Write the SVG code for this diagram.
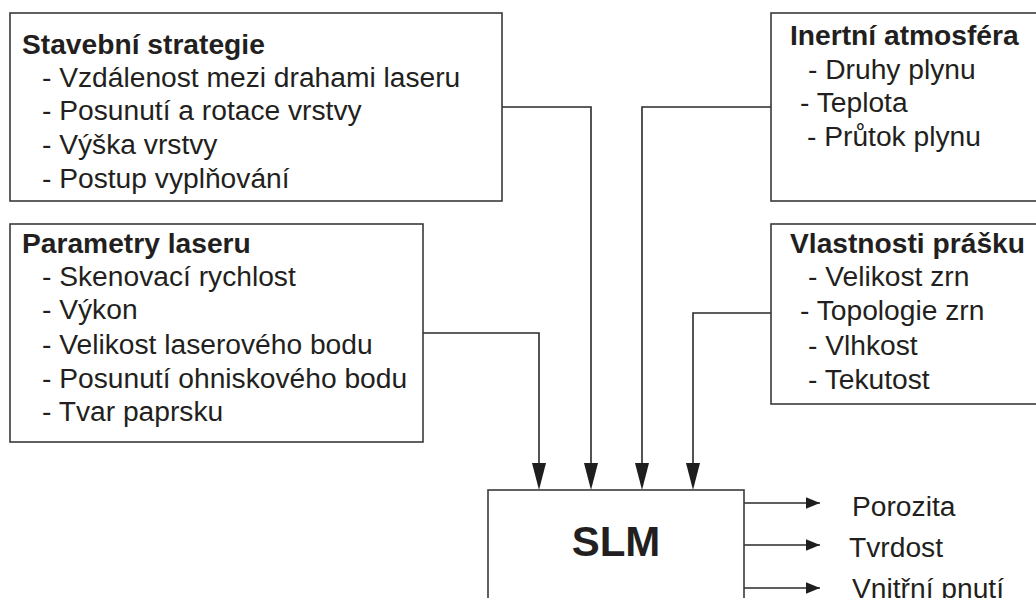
<svg xmlns="http://www.w3.org/2000/svg" width="1036" height="598" viewBox="0 0 1036 598">
  <style>
    .box { fill: #ffffff; stroke: #3a3a3a; stroke-width: 1.6; }
    .wire { fill: none; stroke: #2a2a2a; stroke-width: 1.6; }
    .tip { fill: #1e1e1e; }
    .head { font-family: "Liberation Sans", Arial, sans-serif; font-weight: bold; font-size: 28.2px; fill: #231f20; }
    .item { font-family: "Liberation Sans", Arial, sans-serif; font-size: 28.2px; fill: #231f20; }
    .big { font-family: "Liberation Sans", Arial, sans-serif; font-weight: bold; font-size: 42px; fill: #231f20; }
  </style>
  <defs>
    <!-- small filled head for the output lines -->
    <marker id="right" markerUnits="userSpaceOnUse" markerWidth="14" markerHeight="12" refX="12" refY="5" orient="0" viewBox="0 0 12 10">
      <path d="M0,0 L12,5 L0,10 Z" class="tip"/>
    </marker>
    <!-- long filled head for the inputs into SLM -->
    <path id="downTip" d="M-7,0 L7,0 L0,27 Z" class="tip"/>
  </defs>
  <rect width="1036" height="598" fill="#ffffff"/>

  <g id="connectors">
    <path class="wire" d="M502,107 H591 V463"/>
    <use href="#downTip" x="591" y="463"/>
    <path class="wire" d="M423,333 H539 V463"/>
    <use href="#downTip" x="539" y="463"/>
    <path class="wire" d="M771,107 H642 V463"/>
    <use href="#downTip" x="642" y="463"/>
    <path class="wire" d="M771,313 H693 V463"/>
    <use href="#downTip" x="693" y="463"/>
    <path class="wire" d="M744,503 H820" marker-end="url(#right)"/>
    <path class="wire" d="M744,545 H820" marker-end="url(#right)"/>
    <path class="wire" d="M744,588 H820" marker-end="url(#right)"/>
  </g>

  <g id="stavebni-strategie">
    <rect class="box" x="10" y="13" width="492" height="188"/>
    <text class="head" x="22" y="54">Stavební strategie</text>
    <text class="item" x="42" y="87">- Vzdálenost mezi drahami laseru</text>
    <text class="item" x="42" y="120">- Posunutí a rotace vrstvy</text>
    <text class="item" x="42" y="154">- Výška vrstvy</text>
    <text class="item" x="42" y="188">- Postup vyplňování</text>
  </g>

  <g id="parametry-laseru">
    <rect class="box" x="10" y="224" width="413" height="218"/>
    <text class="head" x="22" y="253">Parametry laseru</text>
    <text class="item" x="42" y="286">- Skenovací rychlost</text>
    <text class="item" x="42" y="319">- Výkon</text>
    <text class="item" x="42" y="354">- Velikost laserového bodu</text>
    <text class="item" x="42" y="388">- Posunutí ohniskového bodu</text>
    <text class="item" x="42" y="421">- Tvar paprsku</text>
  </g>

  <g id="inertni-atmosfera">
    <rect class="box" x="771" y="13" width="270" height="188"/>
    <text class="head" x="790" y="45">Inertní atmosféra</text>
    <text class="item" x="808" y="79">- Druhy plynu</text>
    <text class="item" x="800" y="112">- Teplota</text>
    <text class="item" x="807" y="146">- Průtok plynu</text>
  </g>

  <g id="vlastnosti-prasku">
    <rect class="box" x="771" y="224" width="270" height="180"/>
    <text class="head" x="790" y="253">Vlastnosti prášku</text>
    <text class="item" x="808" y="286">- Velikost zrn</text>
    <text class="item" x="800" y="320">- Topologie zrn</text>
    <text class="item" x="808" y="355">- Vlhkost</text>
    <text class="item" x="808" y="389">- Tekutost</text>
  </g>

  <g id="slm">
    <rect class="box" x="488" y="490" width="256" height="120"/>
    <text class="big" x="616" y="556" text-anchor="middle">SLM</text>
  </g>

  <g id="outputs">
    <text class="item" x="852" y="516">Porozita</text>
    <text class="item" x="849" y="557">Tvrdost</text>
    <text class="item" x="852" y="598">Vnitřní pnutí</text>
  </g>
</svg>
